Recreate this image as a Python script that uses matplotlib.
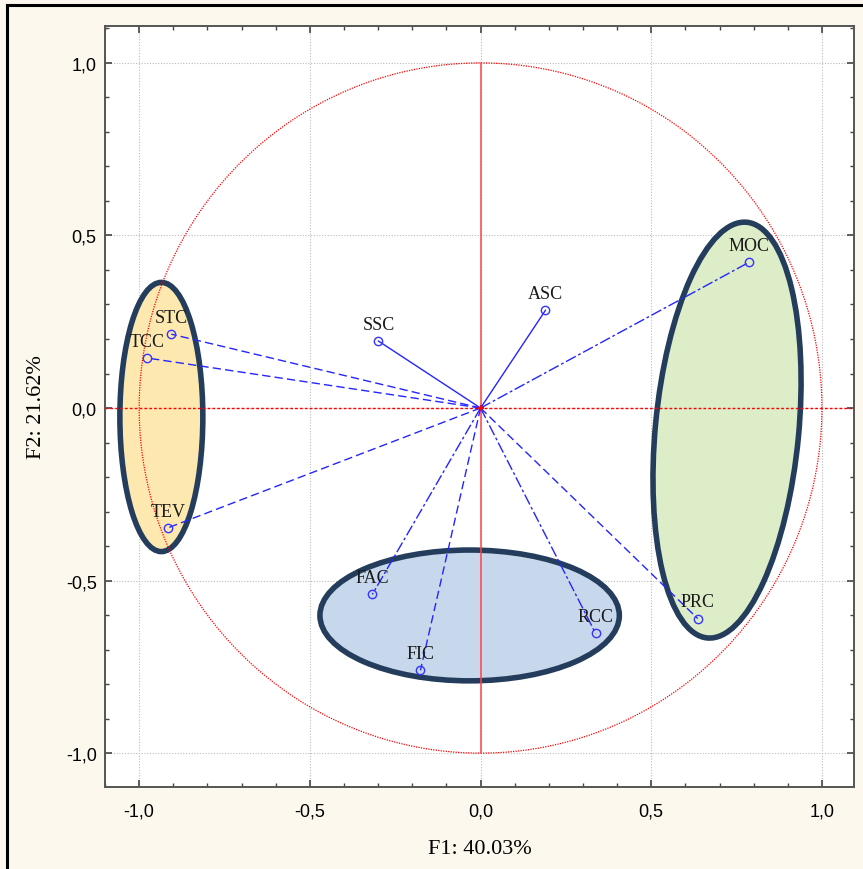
import numpy as np
import matplotlib.pyplot as plt
from matplotlib.patches import Ellipse
from matplotlib.ticker import MultipleLocator, FuncFormatter
from matplotlib.lines import Line2D

# Variable loadings on F1 / F2
names = ["MOC", "ASC", "SSC", "STC", "TCC", "TEV", "FAC", "FIC", "RCC", "PRC"]
f1 = [0.786, 0.190, -0.299, -0.906, -0.977, -0.915, -0.317, -0.176, 0.337, 0.636]
f2 = [0.422, 0.283, 0.194, 0.214, 0.145, -0.347, -0.540, -0.760, -0.653, -0.610]
styles = ["dashdot", "solid", "solid", "dashed", "dashed", "dashed",
          "dashdot", "dashed", "dashdot", "dashed"]

# Groups highlighted with ellipses: centre x, centre y, width, height, angle, colour
groups = {
    "orange": (-0.935, -0.026, 0.243, 0.78, 0, "#fde9b0"),
    "blue": (-0.032, -0.601, 0.877, 0.379, 0, "#c8d8ec"),
    "green": (0.722, -0.064, 0.42, 1.21, -5.5, "#dcedc8"),
}

fig = plt.figure(figsize=(8.63, 8.70), dpi=100)
fig.patch.set_facecolor("#fdf8ed")
ax = fig.add_axes([0.1217, 0.0943, 0.8679, 0.8747])
ax.set_facecolor("white")

# frame around the picture (left and top edges visible)
fig.add_artist(Line2D([0.0081, 0.0081], [0, 0.9931], color="black", lw=2.2,
                      transform=fig.transFigure))
fig.add_artist(Line2D([0.0081, 1], [0.9931, 0.9931], color="black", lw=2.2,
                      transform=fig.transFigure))

ax.set_xlim(-1.10, 1.094)
ax.set_ylim(-1.098, 1.107)

ax.xaxis.set_major_locator(MultipleLocator(0.5))
ax.yaxis.set_major_locator(MultipleLocator(0.5))
ax.xaxis.set_minor_locator(MultipleLocator(0.1))
ax.yaxis.set_minor_locator(MultipleLocator(0.1))
fmt = FuncFormatter(lambda v, p: f"{v:.1f}".replace(".", ",").replace("-0,0", "0,0"))
ax.xaxis.set_major_formatter(fmt)
ax.yaxis.set_major_formatter(fmt)
ax.tick_params(which="both", direction="in", top=True, right=True, color="#444444")
ax.tick_params(which="major", length=5, width=1.2, labelsize=13)
ax.tick_params(axis="x", which="major", pad=11)
ax.tick_params(axis="y", which="major", pad=6)
ax.tick_params(which="minor", length=3, width=1)
for lab in ax.get_xticklabels() + ax.get_yticklabels():
    lab.set_family("Liberation Sans")
for sp in ax.spines.values():
    sp.set_color("#555555")
    sp.set_linewidth(1.4)

ax.grid(True, which="major", color="#bbbbbb", linestyle=(0, (1, 1.5)), lw=0.8)
ax.set_axisbelow(True)

# ellipses
for key, (cx, cy, w, h, ang, col) in groups.items():
    ax.add_patch(Ellipse((cx, cy), w, h, angle=ang, facecolor=col,
                         edgecolor="#243d5c", lw=4, zorder=2))

# unit circle and axes
t = np.linspace(0, 2 * np.pi, 400)
ax.plot(np.cos(t), np.sin(t), color="red", lw=0.9, ls=(0, (1, 1)), zorder=3)
ax.plot([0, 0], [-1, 1], color="#ff4444", lw=1.1, zorder=3)
ax.axhline(0, color="red", lw=1.0, ls=(0, (2, 1.5)), zorder=3)

# loading vectors
for name, x, y, ls in zip(names, f1, f2, styles):
    if ls == "dashed":
        ls = (0, (6, 3))
    elif ls == "dashdot":
        ls = (0, (8, 2, 2, 2))
    ax.plot([0, x], [0, y], color="#2525ff", lw=1.0, ls=ls, zorder=4)
    ax.plot(x, y, "o", mfc="none", mec="#3535ff", ms=6, mew=1.0, zorder=5)
    ax.annotate(name, (x, y), xytext=(0, 12), textcoords="offset points",
                ha="center", va="center", fontsize=13, family="Liberation Serif",
                color="#1a1a1a", zorder=6)
ax.plot(0, 0, "+", color="red", ms=5, mew=1.5, zorder=6)

ax.set_xlabel("F1: 40.03%", family="Liberation Serif", fontsize=16, labelpad=14)
ax.set_ylabel("F2: 21.62%", family="Liberation Serif", fontsize=16, labelpad=14)

fig.savefig("out.png", dpi=100, facecolor=fig.get_facecolor())
